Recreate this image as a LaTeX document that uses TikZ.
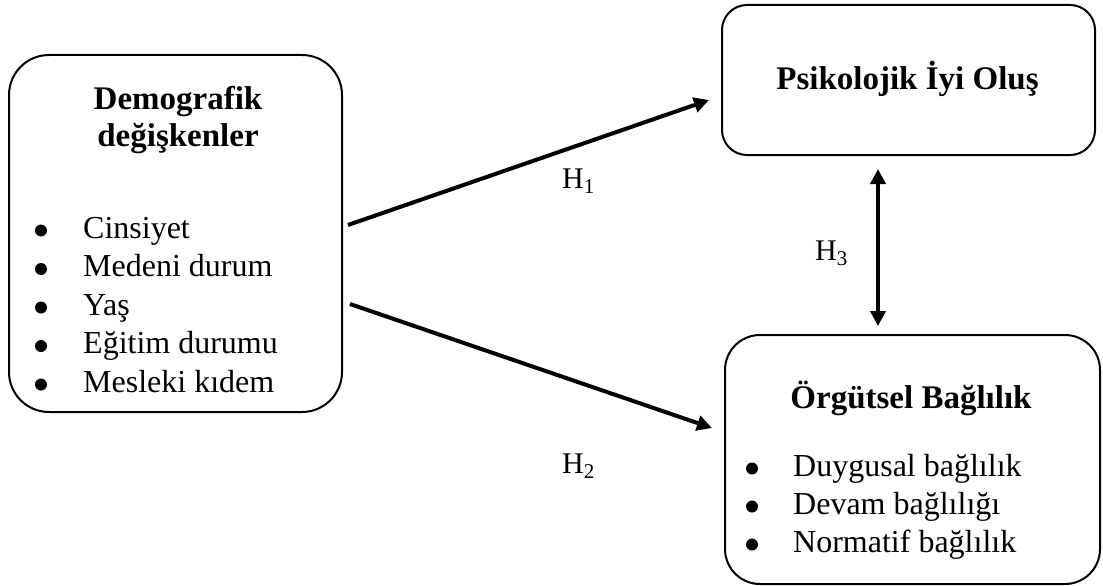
\documentclass[tikz,border=0pt]{standalone}
\usepackage{fontspec}
\setmainfont{Liberation Serif}
\usepackage{tikz}
\usetikzlibrary{arrows.meta, positioning, calc}

\tikzset{
  kasten/.style={draw, line width=2pt, rounded corners=#1, inner sep=0pt},
  titel/.style={font=\fontsize{33}{38}\selectfont\bfseries, align=center, anchor=base},
  eintrag/.style={font=\fontsize{32}{38}\selectfont, anchor=base west, inner sep=0pt},
  punkt/.style={circle, fill, inner sep=0pt, minimum size=12pt},
  hyp/.style={font=\fontsize{30}{36}\selectfont, anchor=base west, inner sep=0pt},
  pfeil/.style={line width=4pt, -{Triangle[length=15pt,width=15pt]}},
}

\begin{document}
\begin{tikzpicture}[x=1pt, y=-1pt]

            \useasboundingbox (0,0) rectangle (1103,586);

            % Kasten links: Demografie
            \node[kasten=40pt, minimum width=333pt, minimum height=357pt] (demo) at (175.5,233.5) {};
            \node[titel] (demotitel) at (178,110) {Demografik};
            \node[titel] (demotitel2) at (178,146) {değişkenler};
            \foreach \t [count=\i from 0] in {Cinsiyet, Medeni durum, Yaş, Eğitim durumu, Mesleki kıdem} {
                \node[punkt] (db\i) at (41,230.5+38.5*\i) {};
                \node[eintrag] (d\i) at (83,238+38.5*\i) {\t};
            }

            % Kasten oben rechts
            \node[kasten=25pt, minimum width=373pt, minimum height=150pt] (psi) at (908.5,80) {};
            \node[titel] (psititel) at (907.5,89) {Psikolojik İyi Oluş};

            % Kasten unten rechts
            \node[kasten=35pt, minimum width=375pt, minimum height=249pt] (org) at (912.5,459.5) {};
            \node[titel] (orgtitel) at (911,408) {Örgütsel Bağlılık};
            \foreach \t [count=\i from 0] in {Duygusal bağlılık, Devam bağlılığı, Normatif bağlılık} {
                \node[punkt] (ob\i) at (752,468.5+38*\i) {};
                \node[eintrag] (o\i) at (793,476+38*\i) {\t};
            }

            % Anfangs- und Endpunkte der Pfeile
            \coordinate (h1a) at ($(demo.east)+(5,-8.5)$);
            \coordinate (h1b) at ($(psi.west)+(-12,20)$);
            \coordinate (h2a) at ($(demo.east)+(7,70.5)$);
            \coordinate (h2b) at ($(org.west)+(-12,-31.5)$);
            \coordinate (h3a) at ($(psi.south)+(-30.5,13)$);
            \coordinate (h3b) at ($(org.north)+(-34.5,-8)$);

            % Pfeile
            \draw[pfeil] (h1a) -- (h1b);
            \draw[pfeil] (h2a) -- (h2b);
            \draw[pfeil, {Triangle[length=15pt,width=15pt]}-{Triangle[length=15pt,width=15pt]}] (h3a) -- (h3b);

            % Hypothesen
            \node[hyp] (hyp1) at (562,188) {H\textsubscript{1}};
            \node[hyp] (hyp2) at (562,473) {H\textsubscript{2}};
            \node[hyp] (hyp3) at (815,260) {H\textsubscript{3}};

         \end{tikzpicture}
\end{document}
